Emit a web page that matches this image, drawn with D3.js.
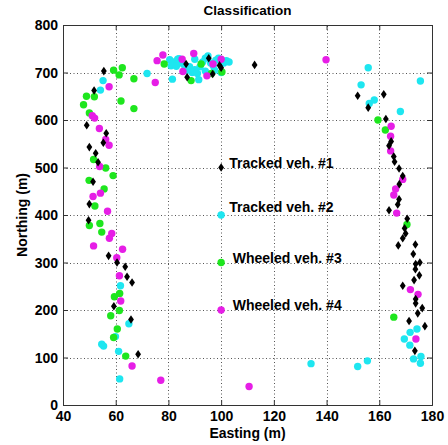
<!DOCTYPE html>
<html>
<head>
<meta charset="utf-8">
<script src="https://cdn.jsdelivr.net/npm/d3@7"></script>
<style>
  html, body { margin: 0; padding: 0; background: #fff; }
  svg { display: block; font-family: "Liberation Sans", Arial, Helvetica, sans-serif; }
</style>
</head>
<body>
<svg id="chart" width="448" height="445"></svg>
<script>
// ---- Data ----
const title = "Classification";
const xLabel = "Easting (m)";
const yLabel = "Northing (m)";
const xTicks = [40, 60, 80, 100, 120, 140, 160, 180];
const yTicks = [0, 100, 200, 300, 400, 500, 600, 700, 800];

const seriesNames = ["Tracked veh. #1", "Tracked veh. #2", "Wheeled veh. #3", "Wheeled veh. #4"];
const seriesColors = ["#000000", "#1ee6f0", "#1ee61e", "#e61ee6"];
const seriesShapes = ["diamond", "circle", "circle", "circle"];

const tracked1 = [
  [55.5,703],[51.8,662],[49.0,589],[56.4,572],[55.3,552],[50.0,543],[52.4,530],[53.3,511],
  [51.4,470],[50.0,423],[49.7,389],[57.3,314],[60.5,300],[63.6,291],[64.3,270],[66.2,258],
  [59.3,208],[65.8,180],[68.5,107],
  [86.7,718],[87.1,690],[95.3,730],[99.4,715],[100.0,710],[96.8,697],[112.7,716],
  [151.8,651],[161.7,654],[155.8,626],[162.5,602],[164.5,555],[163.7,546],[165.5,523],[165.8,512],
  [167.5,498],[168.9,482],[167.6,465],[167.5,433],[167.0,422],[163.7,410],[170.6,392],[169.6,372],
  [170.0,361],[168.9,351],[167.2,336],[173.7,338],[172.9,318],[173.8,297],[175.4,300],[173.7,286],
  [175.2,273],[173.2,263],[168.9,251],[173.8,223],[173.8,214],[176.3,204],[174.6,193],[171.3,177],
  [177.3,166],[173.5,114]
];
const tracked2 = [
  [55.2,683],[54.2,663],[71.9,698],[61.8,251],[65.0,171],[59.9,144],[61.1,113],[54.7,128],
  [55.4,124],[61.5,55],
  [80.5,727],[82.0,722],[83.5,728],[85.0,720],[81.0,714],[83.0,713],[86.0,716],[88.0,712],
  [90.0,706],[89.0,700],[91.0,698],[91.5,685],[93.0,722],[94.0,730],[95.0,735],[96.0,720],
  [97.0,714],[98.0,726],[99.0,730],[100.0,727],[101.0,720],[102.0,725],[103.0,722],[94.0,703],
  [81.5,686],[100.0,700],[87.0,705],[90.0,728],[84.0,729],[92.0,712],[97.5,705],
  [155.8,710],[153.1,674],[175.6,682],[156.2,635],[158.1,642],[168.0,618],
  [171.7,153],[174.3,160],[169.5,139],[171.6,126],[173.0,97],[175.8,102],[175.6,88],
  [134.1,87],[151.8,81],[155.5,93]
];
const wheeled3 = [
  [59.2,705],[62.5,710],[61.3,695],[66.9,687],[48.9,650],[51.9,649],[47.8,632],[62.0,640],
  [66.9,624],[50.0,615],[51.6,517],[56.2,499],[59.0,483],[49.9,473],[55.6,455],[52.1,419],
  [54.0,382],[50.0,378],[54.7,364],[59.5,228],[61.5,235],[58.1,188],[61.4,199],[60.6,160],
  [59.2,142],[63.8,103],
  [78.4,718],[88.6,683],[92.4,718],[96.3,698],[100.3,701],
  [159.5,600],[162.3,579],[170.5,380],[165.5,185]
];
const wheeled4 = [
  [57.5,670],[51.1,609],[52.0,604],[53.8,582],[56.2,559],[57.5,547],[53.9,502],[54.2,446],
  [51.4,439],[56.9,408],[58.5,361],[57.6,351],[51.6,335],[62.6,328],[60.4,310],[61.4,272],
  [61.9,219],[66.2,82],[77.1,52],[110.6,39],
  [75.7,725],[77.9,737],[75.0,679],[85.2,728],[89.6,740],[94.6,693],[96.9,718],[100.0,728],[85.5,702],
  [139.8,727],
  [164.5,587],[164.3,566],[164.3,535],[168.9,475],[166.2,455],[165.5,442],[166.6,404],
  [171.8,243],[174.7,233],[173.9,139]
];
const seriesData = [tracked1, tracked2, wheeled3, wheeled4];

// legend entries as drawn in the figure (marker in data coords, text anchor in data coords)
const legendMarkers = [[100,500],[100,400],[100,300],[100,200]];
const legendTextAt = [[103.1,509],[103.1,417],[104.4,310],[104.4,210]];

// ---- Layout ----
const W = 448, H = 445;
const margin = {left: 63, right: 16, top: 25, bottom: 40};
const iw = W - margin.left - margin.right;
const ih = H - margin.top - margin.bottom;

const svg = d3.select("#chart");
const x = d3.scaleLinear().domain([40, 180]).range([margin.left, margin.left + iw]);
const y = d3.scaleLinear().domain([0, 800]).range([margin.top + ih, margin.top]);

// grid
const grid = svg.append("g");
grid.selectAll("line.gx").data(xTicks.slice(1, -1)).join("line")
  .attr("x1", d => Math.round(x(d)) + 0.5).attr("x2", d => Math.round(x(d)) + 0.5)
  .attr("y1", y(0)).attr("y2", y(800))
  .attr("stroke", "#555").attr("stroke-width", 1).attr("stroke-dasharray", "1,2.5");
grid.selectAll("line.gy").data(yTicks.slice(1, -1)).join("line")
  .attr("y1", d => Math.round(y(d)) + 0.5).attr("y2", d => Math.round(y(d)) + 0.5)
  .attr("x1", x(40)).attr("x2", x(180))
  .attr("stroke", "#555").attr("stroke-width", 1).attr("stroke-dasharray", "1,2.5");

// axes (ticks inward)
const fontTick = "bold 14px 'Liberation Sans', Arial, sans-serif";
const xAxisB = svg.append("g").attr("transform", `translate(0,${y(0)})`)
  .call(d3.axisBottom(x).tickValues(xTicks).tickSize(-5).tickPadding(6).tickFormat(d3.format("d")));
const xAxisT = svg.append("g").attr("transform", `translate(0,${y(800)})`)
  .call(d3.axisTop(x).tickValues(xTicks).tickSize(-5).tickFormat(""));
const yAxisL = svg.append("g").attr("transform", `translate(${x(40)},0)`)
  .call(d3.axisLeft(y).tickValues(yTicks).tickSize(-5).tickPadding(5).tickFormat(d3.format("d")));
const yAxisR = svg.append("g").attr("transform", `translate(${x(180)},0)`)
  .call(d3.axisRight(y).tickValues(yTicks).tickSize(-5).tickFormat(""));
[xAxisB, xAxisT, yAxisL, yAxisR].forEach(g => {
  g.select(".domain").attr("stroke", "#333").attr("stroke-width", 1);
  g.selectAll(".tick line").attr("stroke", "#333");
  g.selectAll("text").style("font", fontTick).attr("fill", "#000");
});
xAxisB.selectAll("text").attr("dy", "0.72em");
yAxisL.selectAll("text").attr("dy", "0.34em");

// markers
const diamond = (cx, cy) => `M${cx},${cy - 4.3}L${cx + 2.9},${cy}L${cx},${cy + 4.3}L${cx - 2.9},${cy}Z`;
const drawOrder = [1, 2, 3, 0];
drawOrder.forEach(i => {
  const pts = seriesData[i].concat([legendMarkers[i]]);
  const g = svg.append("g");
  if (seriesShapes[i] === "diamond") {
    g.selectAll("path").data(pts).join("path")
      .attr("d", d => diamond(x(d[0]), y(d[1])))
      .attr("fill", seriesColors[i]);
  } else {
    g.selectAll("circle").data(pts).join("circle")
      .attr("cx", d => x(d[0])).attr("cy", d => y(d[1])).attr("r", 3.7)
      .attr("fill", seriesColors[i]);
  }
});

// legend text labels
svg.append("g").selectAll("text").data(seriesNames).join("text")
  .attr("x", (d, i) => x(legendTextAt[i][0]))
  .attr("y", (d, i) => y(legendTextAt[i][1]))
  .attr("dy", "0.35em")
  .style("font", "bold 14px 'Liberation Sans', Arial, sans-serif")
  .text(d => d);

// title & axis labels
svg.append("text").attr("x", (x(40) + x(180)) / 2).attr("y", 15)
  .attr("text-anchor", "middle")
  .style("font", "bold 13.5px 'Liberation Sans', Arial, sans-serif").text(title);
svg.append("text").attr("x", (x(40) + x(180)) / 2).attr("y", 438)
  .attr("text-anchor", "middle")
  .style("font", "bold 14px 'Liberation Sans', Arial, sans-serif").text(xLabel);
svg.append("text").attr("transform", `translate(27,${(y(0) + y(800)) / 2}) rotate(-90)`)
  .attr("text-anchor", "middle")
  .style("font", "bold 14px 'Liberation Sans', Arial, sans-serif").text(yLabel);
</script>
</body>
</html>
